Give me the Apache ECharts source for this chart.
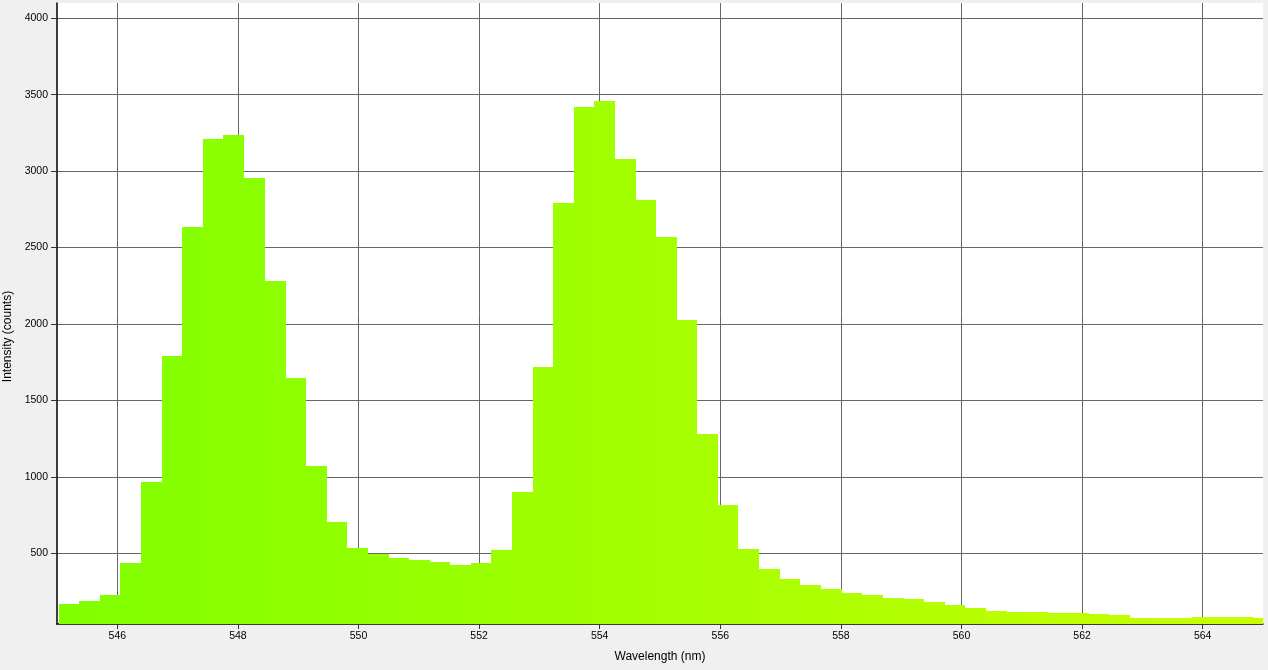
<!DOCTYPE html>
<html>
<head>
<meta charset="utf-8">
<script src="https://cdn.jsdelivr.net/npm/echarts@6/dist/echarts.min.js"></script>
<style>
html,body{margin:0;padding:0;background:#f0f0f0;}
#c{width:1268px;height:670px;}
</style>
</head>
<body>
<div id="c"></div>
<script>
// Bin start wavelengths (nm)
const wavelengths = [
  545.03, 545.37, 545.71, 546.05, 546.40, 546.74, 547.08, 547.42, 547.76, 548.10,
  548.45, 548.79, 549.13, 549.47, 549.81, 550.15, 550.50, 550.84, 551.18, 551.52,
  551.86, 552.20, 552.55, 552.89, 553.23, 553.57, 553.91, 554.25, 554.60, 554.94,
  555.28, 555.62, 555.96, 556.30, 556.65, 556.99, 557.33, 557.67, 558.01, 558.35,
  558.70, 559.04, 559.38, 559.72, 560.06, 560.40, 560.75, 561.09, 561.43, 561.77,
  562.11, 562.45, 562.80, 563.14, 563.48, 563.82, 564.16, 564.50, 564.85
];
// Intensity counts per bin
const counts = [
  168, 188, 227, 438, 966, 1790, 2633, 3209, 3236, 2955,
  2281, 1647, 1071, 705, 534, 497, 469, 456, 443, 423,
  438, 521, 901, 1717, 2790, 3420, 3458, 3079, 2813, 2569,
  2026, 1280, 816, 528, 397, 332, 292, 266, 240, 227,
  207, 201, 181, 162, 142, 122, 116, 116, 109, 109,
  103, 96, 77, 77, 77, 83, 83, 83, 77
];
const binWidth = 0.3416;
const xTicks = [546, 548, 550, 552, 554, 556, 558, 560, 562, 564];
const yTicks = [500, 1000, 1500, 2000, 2500, 3000, 3500, 4000];
const xRange = [545, 565];
const yRange = [37, 4100];

function spectrumColor(w) {
  const t = (w - 510) / (580 - 510);
  const r = Math.max(0, Math.min(255, Math.round(255 * t)));
  return 'rgb(' + r + ',255,0)';
}

const FONT = 'Liberation Sans';
const chart = echarts.init(document.getElementById('c'), null, {renderer: 'canvas'});

const barData = wavelengths.map((w, i) => [
  w, counts[i], (i + 1 < wavelengths.length ? wavelengths[i + 1] : w + binWidth)
]);

const option = {
  backgroundColor: '#f0f0f0',
  animation: false,
  grid: {
    left: 57, right: 5, top: 3, bottom: 46,
    containLabel: false,
    outerBoundsMode: 'none',
    show: true, backgroundColor: '#ffffff', borderWidth: 0
  },
  xAxis: {
    type: 'value',
    min: xRange[0], max: xRange[1],
    axisLine: {show: true, onZero: false, lineStyle: {color: '#000', width: 1.5}},
    axisTick: {show: true, customValues: xTicks, length: 5, lineStyle: {color: '#333'}},
    axisLabel: {customValues: xTicks, color: '#000', fontSize: 10.5, fontFamily: FONT, margin: 7,
                formatter: v => String(v)},
    splitLine: {show: true, lineStyle: {color: '#666', width: 1}},
    name: 'Wavelength (nm)',
    nameLocation: 'middle',
    nameGap: 27,
    nameTextStyle: {color: '#000', fontSize: 12, fontFamily: FONT}
  },
  yAxis: {
    type: 'value',
    min: yRange[0], max: yRange[1],
    axisLine: {show: true, onZero: false, lineStyle: {color: '#000', width: 1.5}},
    axisTick: {show: true, customValues: yTicks, length: 6, lineStyle: {color: '#333'}},
    axisLabel: {customValues: yTicks, color: '#000', fontSize: 10.5, fontFamily: FONT, margin: 9,
                formatter: v => String(v)},
    splitLine: {show: true, lineStyle: {color: '#666', width: 1}},
    name: 'Intensity (counts)',
    nameLocation: 'middle',
    nameGap: 32,
    nameTextStyle: {color: '#000', fontSize: 12, fontFamily: FONT, padding: [0, 46, 0, 0]}
  },
  series: [{
    type: 'custom',
    clip: true,
    zlevel: 1,
    z: 10,
    encode: {x: 0, y: 1},
    data: barData,
    renderItem: function (params, api) {
      const x0 = api.value(0);
      const v = api.value(1);
      const x1 = api.value(2);
      const pTop = api.coord([x0, v]);
      const pBot = api.coord([x1, yRange[0]]);
      const left = Math.round(pTop[0]);
      const right = Math.round(pBot[0]);
      const top = Math.round(pTop[1]);
      const bottom = Math.floor(pBot[1]);
      const rect = {x: left, y: top, width: right - left, height: bottom - top};
      const cs = params.coordSys;
      const shape = echarts.graphic.clipRectByRect(rect, {x: cs.x, y: cs.y, width: cs.width, height: cs.height});
      if (!shape) return null;
      return {
        type: 'rect',
        shape: shape,
        style: {fill: spectrumColor((x0 + x1) / 2)}
      };
    }
  }]
};
chart.setOption(option);
</script>
</body>
</html>
